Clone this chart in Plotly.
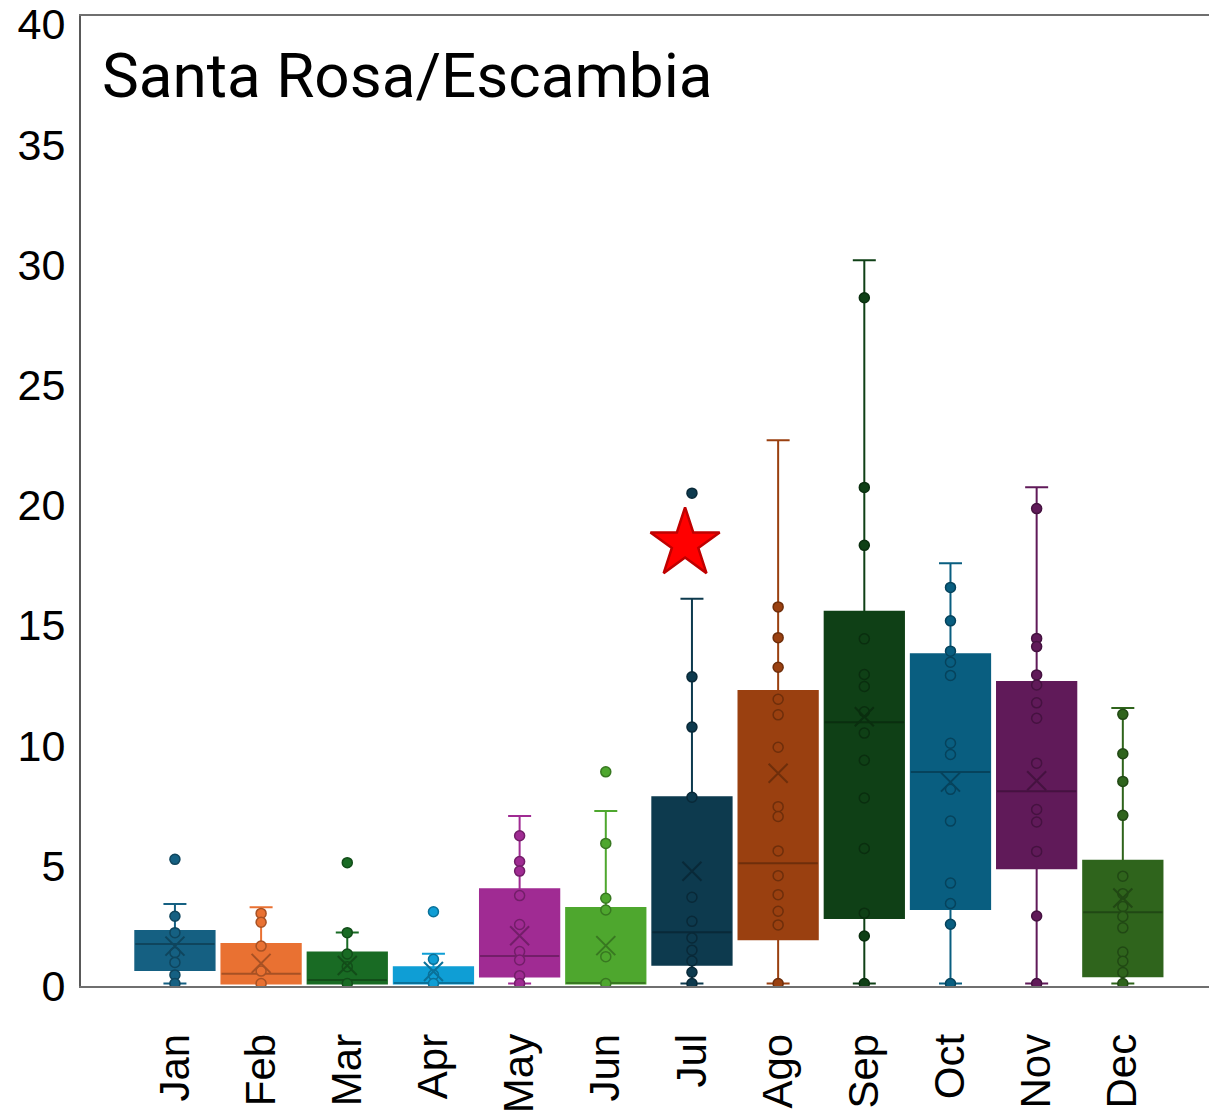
import plotly.graph_objects as go

# Monthly rainfall distribution, Santa Rosa/Escambia
months = ["Jan", "Feb", "Mar", "Apr", "May", "Jun",
          "Jul", "Ago", "Sep", "Oct", "Nov", "Dec"]

# Box statistics per month
lower_whisker = [0.1, 0.1, 0.1, 0.1, 0.1, 0.1, 0.1, 0.1, 0.1, 0.1, 0.1, 0.1]
q1_values = [0.67, 0.1, 0.1, 0.1, 0.39, 0.1, 0.88, 1.94, 2.83, 3.2, 4.9, 0.41]
median_values = [1.75, 0.51, 0.25, 0.12, 1.25, 0.12, 2.24, 5.11, 10.97, 8.9, 8.1, 3.07]
q3_values = [2.29, 1.75, 1.39, 0.78, 4.02, 3.24, 7.85, 12.27, 15.57, 13.8, 12.65, 5.21]
upper_whisker = [3.41, 3.28, 2.23, 1.34, 7.07, 7.28, 16.11, 22.7, 30.19, 17.59, 20.75, 11.56]
mean_values = [1.66, 0.94, 0.85, 0.6, 2.09, 1.68, 4.77, 8.85, 11.2, 8.48, 8.54, 3.66]

# Individual yearly observations per month
obs_jan = [5.27, 2.90, 2.22, 1.39, 0.98, 0.46, 0.1]
obs_feb = [3.02, 2.65, 1.66, 0.62, 0.1]
obs_mar = [5.13, 2.22, 1.33, 0.80, 0.1]
obs_apr = [3.09, 1.11, 0.46, 0.1]
obs_may = [6.25, 5.18, 4.78, 3.76, 2.56, 1.43, 1.08, 0.43, 0.1]
obs_jun = [8.91, 5.93, 3.65, 3.16, 1.22, 0.1]
obs_jul = [20.5, 12.86, 10.77, 7.85, 3.69, 2.69, 2.00, 1.49, 1.04, 0.57, 0.1]
obs_ago = [15.77, 14.49, 13.26, 11.93, 11.28, 9.93, 7.46, 7.05, 5.62, 4.59,
           3.80, 3.11, 2.54, 0.1]
obs_sep = [28.63, 20.74, 18.33, 14.44, 12.96, 12.46, 11.41, 10.52, 9.39, 7.82,
           5.72, 3.03, 2.08, 0.1]
obs_oct = [16.58, 15.19, 13.93, 13.47, 12.92, 10.10, 9.63, 8.18, 6.86, 4.28,
           3.43, 2.57, 0.1]
obs_nov = [19.86, 14.46, 14.12, 12.94, 12.52, 11.78, 11.14, 9.27, 7.34, 6.82,
           5.6, 2.91, 0.1]
obs_dec = [11.3, 9.66, 8.51, 7.10, 4.57, 3.84, 3.31, 2.89, 2.42, 1.41, 1.03,
           0.56, 0.1]
observations = [obs_jan, obs_feb, obs_mar, obs_apr, obs_may, obs_jun,
                obs_jul, obs_ago, obs_sep, obs_oct, obs_nov, obs_dec]

# Highlighted month (star marker)
highlight_month = "Jul"
highlight_value = 18.4

y_ticks = [0, 5, 10, 15, 20, 25, 30, 35, 40]

colors = ["#156082", "#E97132", "#196B24", "#0F9ED5", "#A02B93", "#4EA72E",
          "#0D3A4E", "#9A4010", "#0F4016", "#095E80", "#601A59", "#2F641C"]


def darken(hex_color, factor):
    h = hex_color.lstrip("#")
    r, g, b = (int(h[i:i + 2], 16) for i in (0, 2, 4))
    return "rgb({},{},{})".format(int(r * factor), int(g * factor), int(b * factor))


BOX_WIDTH = 0.92
fig = go.Figure()

for i, m in enumerate(months):
    c = colors[i]
    dark = darken(c, 0.72)
    fig.add_trace(go.Box(
        x=[i], q1=[q1_values[i]], median=[median_values[i]], q3=[q3_values[i]],
        lowerfence=[lower_whisker[i]], upperfence=[upper_whisker[i]],
        width=BOX_WIDTH, whiskerwidth=0.29, boxpoints=False,
        fillcolor=c, line=dict(color=c, width=2),
        hoverinfo="skip", showlegend=False,
    ))
    # median line in a darker shade
    fig.add_trace(go.Scatter(
        x=[i - BOX_WIDTH / 2, i + BOX_WIDTH / 2],
        y=[median_values[i], median_values[i]],
        mode="lines", line=dict(color=dark, width=2),
        hoverinfo="skip", showlegend=False,
    ))
    # observations
    fig.add_trace(go.Scatter(
        x=[i] * len(observations[i]), y=observations[i], mode="markers",
        marker=dict(size=10, color=c, line=dict(color=dark, width=1.5)),
        hoverinfo="skip", showlegend=False,
    ))
    # mean marker
    fig.add_trace(go.Scatter(
        x=[i], y=[mean_values[i]], mode="markers",
        marker=dict(symbol="x-thin-open", size=19, color=dark,
                    line=dict(color=dark, width=2)),
        hoverinfo="skip", showlegend=False,
    ))

# highlight star
hi = months.index(highlight_month)
fig.add_trace(go.Scatter(
    x=[hi - 0.08], y=[highlight_value], mode="markers",
    marker=dict(symbol="star", size=52, color="#FF0000",
                line=dict(color="#C00000", width=2.5)),
    hoverinfo="skip", showlegend=False,
))

fig.add_annotation(
    text="Santa Rosa/Escambia", xref="paper", yref="paper",
    x=0.017, y=0.978, xanchor="left", yanchor="top", showarrow=False,
    font=dict(family="Roboto", size=62, color="#000000"),
)

fig.update_layout(
    width=1209, height=1117,
    margin=dict(l=81, r=0, t=16, b=131),
    paper_bgcolor="white", plot_bgcolor="white",
    boxmode="overlay",
    xaxis=dict(
        range=[-1.09, 12.0], tickmode="array",
        tickvals=list(range(len(months))), ticktext=months,
        tickangle=-90, showgrid=False, zeroline=False,
        showline=True, linecolor="#6f6f6f", linewidth=2, mirror=True,
        ticks="", ticklabelstandoff=29, automargin=False,
        tickfont=dict(family="Liberation Sans, Arial", size=42, color="#000000"),
    ),
    yaxis=dict(
        range=[0, 40.35], tickmode="array", tickvals=y_ticks,
        showgrid=False, zeroline=False,
        showline=True, linecolor="#595959", linewidth=2,
        ticks="", ticklabelstandoff=5, ticklabeloverflow="allow",
        automargin=False,
        tickfont=dict(family="Liberation Sans, Open Sans", size=43, color="#000000"),
    ),
)

fig.write_html("out.html")
